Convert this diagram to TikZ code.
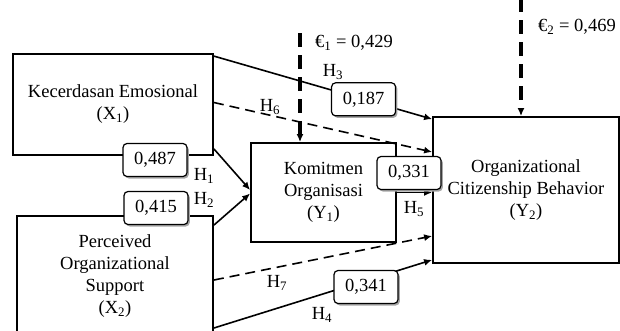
\documentclass[tikz,border=0pt]{standalone}
\usepackage{fontspec}
\setmainfont{Liberation Serif}
\usetikzlibrary{arrows.meta,shadows,calc}
\tikzset{
  base/.style={font=\fontsize{18.5}{22}\selectfont},
  varbox/.style={base,draw,line width=1.8pt,align=center,inner sep=0pt},
  valbox/.style={base,draw,line width=1.2pt,rounded corners=4pt,fill=white,
    minimum width=64pt,minimum height=33pt,inner sep=0pt,
    drop shadow={shadow xshift=1.8pt,shadow yshift=-2pt,fill=gray!70,opacity=1}},
  hlab/.style={base,inner sep=0pt},
  conn/.style={line width=1.6pt,-{Latex[length=8pt,width=7pt]}},
  dconn/.style={conn,dash pattern=on 10pt off 6pt},
  errarr/.style={line width=3.4pt,dash pattern=on 14pt off 8pt,-{Latex[length=8pt,width=7pt]}},
}
\begin{document}
\begin{tikzpicture}[x=1pt,y=-1pt]
\useasboundingbox (0,0) rectangle (620,330);
\clip (0,0) rectangle (620,330);
% variable boxes
\node[varbox,minimum width=200pt,minimum height=101pt] (x1) at (113,104.5)
  {Kecerdasan Emosional\\(X\textsubscript{1})};
\node[varbox,minimum width=196pt,minimum height=120pt] (x2) at (115,276)
  {Perceived\\Organizational\\Support\\(X\textsubscript{2})};
\node[varbox,minimum width=145pt,minimum height=99pt] (y1) at (323.5,192.5)
  {Komitmen\\Organisasi\\(Y\textsubscript{1})};
\node[varbox,minimum width=186pt,minimum height=146pt] (y2) at (526,190)
  {Organizational\\Citizenship Behavior\\(Y\textsubscript{2})};
% error terms
\coordinate (e1) at (300,33);
\coordinate (e2) at (521,-2);
\draw[errarr] (e1) -- (e1 |- y1.north);
\draw[errarr] (e2) -- (e2 |- y2.north);
\node[hlab] (e1lab) at (354,43) {€\textsubscript{1} = 0,429};
\node[hlab] (e2lab) at (577,27) {€\textsubscript{2} = 0,469};
% paths
\draw[conn] ([yshift=-3pt]x1.north east) -- ([yshift=-3pt]y2.north west)
  node[valbox,pos=0.686] (v3) {0,187};
\draw[dconn] ([yshift=2pt]x1.east) -- ([yshift=38pt]y2.west);
\draw[conn] ([yshift=7pt]x1.south east) -- ([yshift=2.5pt]y1.west);
\draw[conn] ([yshift=-10pt]x2.north east) -- ([yshift=-1pt]y1.west);
\draw[conn] (y1.east) -- (y1.east -| y2.west);
\draw[dconn] ([yshift=-4pt]x2.east) -- ([yshift=-46pt]y2.west);
\draw[conn] ([yshift=-52pt]x2.east) -- ([yshift=4pt]y2.south west);
% value boxes
\node[valbox] (v1) at (155,160) {0,487};
\node[valbox] (v2) at (156,208) {0,415};
\node[valbox] (v5) at (409,173) {0,331};
\node[valbox] (v4) at (366,287) {0,341};
% hypothesis labels
\node[hlab] (h1) at (204,176) {H\textsubscript{1}};
\node[hlab] (h2) at (204,200) {H\textsubscript{2}};
\node[hlab] (h3) at (333,72) {H\textsubscript{3}};
\node[hlab] (h4) at (322,315) {H\textsubscript{4}};
\node[hlab] (h5) at (414,209) {H\textsubscript{5}};
\node[hlab] (h6) at (270,107) {H\textsubscript{6}};
\node[hlab] (h7) at (277,283) {H\textsubscript{7}};
\end{tikzpicture}
\end{document}
